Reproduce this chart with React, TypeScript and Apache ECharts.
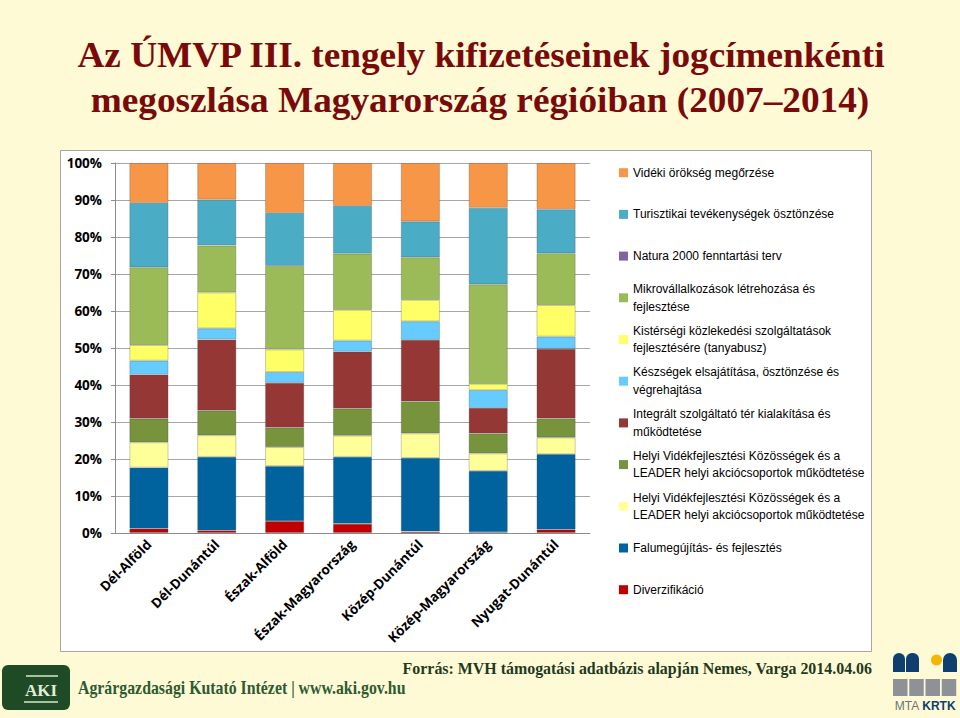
import React, { useEffect, useRef } from 'react';
import * as echarts from 'echarts';

const categories = ['Dél-Alföld', 'Dél-Dunántúl', 'Észak-Alföld', 'Észak-Magyarország', 'Közép-Dunántúl', 'Közép-Magyarország', 'Nyugat-Dunántúl'];

// stacked bottom to top (values in %)
const diverzifikacio = [1.2, 0.7, 3.2, 2.5, 0.4, 0.2, 0.9];
const falumegujitas = [16.5, 19.9, 14.9, 18.1, 19.9, 16.6, 20.4];
const helyiLeaderA = [6.8, 5.8, 5.1, 5.7, 6.6, 4.7, 4.5];
const helyiLeaderB = [6.4, 6.7, 5.3, 7.3, 8.7, 5.4, 5.2];
const integraltTer = [11.9, 19.2, 12.1, 15.4, 16.6, 6.9, 18.8];
const keszsegek = [3.8, 3.0, 2.9, 3.0, 5.0, 4.8, 3.3];
const kistersegi = [4.2, 9.7, 6.1, 8.3, 5.8, 1.7, 8.5];
const mikrovallalkozasok = [21.0, 12.7, 22.6, 15.2, 11.5, 26.9, 14.0];
const natura2000 = [0, 0, 0, 0, 0, 0, 0];
const turisztikai = [17.4, 12.4, 14.3, 12.9, 9.7, 20.7, 11.9];
const videkiOrokseg = [10.8, 9.9, 13.5, 11.6, 15.8, 12.1, 12.5];

const yTicks = [0, 10, 20, 30, 40, 50, 60, 70, 80, 90, 100];

const seriesNames = [
  'Diverzifikáció',
  'Falumegújítás- és fejlesztés',
  'Helyi Vidékfejlesztési Közösségek és a LEADER helyi akciócsoportok működtetése',
  'Helyi Vidékfejlesztési Közösségek és a LEADER helyi akciócsoportok működtetése ',
  'Integrált szolgáltató tér kialakítása és működtetése',
  'Készségek elsajátítása, ösztönzése és végrehajtása',
  'Kistérségi közlekedési szolgáltatások fejlesztésére (tanyabusz)',
  'Mikrovállalkozások létrehozása és fejlesztése',
  'Natura 2000 fenntartási terv',
  'Turisztikai tevékenységek ösztönzése',
  'Vidéki örökség megőrzése',
];
const legendLabels = [
  'Diverzifikáció',
  'Falumegújítás- és fejlesztés',
  'Helyi Vidékfejlesztési Közösségek és a\nLEADER helyi akciócsoportok működtetése',
  'Helyi Vidékfejlesztési Közösségek és a\nLEADER helyi akciócsoportok működtetése',
  'Integrált szolgáltató tér kialakítása és\nműködtetése',
  'Készségek elsajátítása, ösztönzése és\nvégrehajtása',
  'Kistérségi közlekedési szolgáltatások\nfejlesztésére (tanyabusz)',
  'Mikrovállalkozások létrehozása és\nfejlesztése',
  'Natura 2000 fenntartási terv',
  'Turisztikai tevékenységek ösztönzése',
  'Vidéki örökség megőrzése',
];
const seriesData = [
  diverzifikacio, falumegujitas, helyiLeaderA, helyiLeaderB, integraltTer,
  keszsegek, kistersegi, mikrovallalkozasok, natura2000, turisztikai, videkiOrokseg,
];
const palette = ['#C00000', '#00639E', '#FFFF99', '#77933C', '#953735', '#66CCFF', '#FFFF66', '#9BBB59', '#8064A2', '#4BACC6', '#F79646'];

const BG = '#FEFAD6';

export default function App() {
  const ref = useRef<HTMLDivElement>(null);
  useEffect(() => {
    document.body.style.margin = '0';
    document.body.style.background = BG;
    const chart = echarts.init(ref.current!, null, { renderer: 'svg' });
    const LH = 17.5;
    const legends = seriesNames.map((_, k) => {
      const idx = seriesNames.length - 1 - k;
      const c = 172.7 + k * 41.7;
      const twoLine = legendLabels[idx].includes('\n');
      return {
        data: [seriesNames[idx]],
        left: 619,
        top: twoLine ? c - 1.5 * LH : c - LH / 2,
        orient: 'vertical',
        padding: 0,
        itemWidth: 9,
        itemHeight: 9,
        itemGap: 0,
        icon: 'rect',
        selectedMode: false,
        formatter: () => legendLabels[idx],
        itemStyle: { borderWidth: 0 },
        textStyle: {
          fontFamily: '"Liberation Sans Narrow", "Liberation Sans", sans-serif',
          fontSize: 12,
          lineHeight: LH,
          color: '#000',
          padding: twoLine ? [LH, 0, 0, 0] : 0,
        },
      };
    });

    const serif = '"Liberation Serif", "DejaVu Serif", serif';
    const option: any = {
      animation: false,
      backgroundColor: BG,
      grid: { left: 115, right: 370, top: 163, bottom: 185, containLabel: false },
      legend: legends,
      xAxis: {
        type: 'category',
        data: categories,
        axisLine: { lineStyle: { color: '#8C8C8C' } },
        axisTick: { show: false },
        axisLabel: {
          rotate: 45,
          margin: 9,
          interval: 0,
          color: '#000',
          fontWeight: 'bold',
          fontSize: 13.5,
          fontFamily: '"Open Sans", sans-serif',
        },
      },
      yAxis: {
        type: 'value',
        min: 0,
        max: 100,
        interval: 10,
        axisLine: { show: true, lineStyle: { color: '#8C8C8C' } },
        axisTick: { show: true, length: 4, lineStyle: { color: '#8C8C8C' } },
        splitLine: { lineStyle: { color: '#A6A6A6' } },
        axisLabel: {
          formatter: (v: number) => (yTicks.includes(v) ? v + '%' : ''),
          margin: 13,
          color: '#000',
          fontWeight: 'bold',
          fontSize: 13.5,
          fontFamily: '"Open Sans", sans-serif',
        },
      },
      series: seriesNames.map((name, i) => ({
        name,
        type: 'bar',
        stack: 'total',
        barWidth: 39,
        data: seriesData[i],
        itemStyle: {
          color: palette[i],
          borderColor: 'rgba(70,70,70,0.35)',
          borderWidth: i === 8 ? 0 : 0.8,
        },
        emphasis: { disabled: true },
      })),
      graphic: [
        {
          type: 'rect', z: -10, silent: true,
          shape: { x: 60.5, y: 150.5, width: 811, height: 501 },
          style: { fill: '#FFFFFF', stroke: '#A6A6A6', lineWidth: 1 },
        },
        {
          type: 'text', silent: true,
          x: 481, y: 55, scaleX: 1.065,
          style: {
            text: 'Az ÚMVP III. tengely kifizetéseinek jogcímenkénti',
            x: 0, y: 0, font: `bold 35px ${serif}`, fill: '#7A0A0A',
            align: 'center', verticalAlign: 'middle', textAlign: 'center', textVerticalAlign: 'middle',
          },
        },
        {
          type: 'text', silent: true,
          x: 480, y: 100, scaleX: 1.065,
          style: {
            text: 'megoszlása Magyarország régióiban (2007\u20132014)',
            x: 0, y: 0, font: `bold 35px ${serif}`, fill: '#7A0A0A',
            align: 'center', verticalAlign: 'middle', textAlign: 'center', textVerticalAlign: 'middle',
          },
        },
        {
          type: 'text', silent: true,
          x: 872, y: 668, scaleX: 0.995,
          style: {
            text: 'Forrás: MVH támogatási adatbázis alapján Nemes, Varga 2014.04.06',
            x: 0, y: 0, font: `bold 16px ${serif}`, fill: '#1E3A1E',
            align: 'right', verticalAlign: 'middle', textAlign: 'right', textVerticalAlign: 'middle',
          },
        },
        {
          type: 'text', silent: true,
          x: 78, y: 688, scaleX: 0.88,
          style: {
            text: 'Agrárgazdasági Kutató Intézet | www.aki.gov.hu',
            x: 0, y: 0, font: `bold 18px ${serif}`, fill: '#2E5A32',
            align: 'left', verticalAlign: 'middle', textAlign: 'left', textVerticalAlign: 'middle',
          },
        },
        // AKI logo
        {
          type: 'rect', silent: true,
          shape: { x: 2, y: 665, width: 68, height: 45, r: 6 },
          style: { fill: '#1F4A26' },
        },
        {
          type: 'line', silent: true,
          shape: { x1: 26, y1: 676, x2: 58, y2: 676 },
          style: { stroke: '#A9BFA0', lineWidth: 2 },
        },
        {
          type: 'line', silent: true,
          shape: { x1: 24, y1: 702, x2: 58, y2: 702 },
          style: { stroke: '#A9BFA0', lineWidth: 2 },
        },
        {
          type: 'text', silent: true,
          style: {
            text: 'AKI', x: 41, y: 690, font: `bold 17px ${serif}`, fill: '#E4ECD8',
            align: 'center', verticalAlign: 'middle', textAlign: 'center', textVerticalAlign: 'middle',
          },
        },
        // MTA KRTK logo
        {
          type: 'rect', silent: true,
          shape: { x: 893, y: 653, width: 12, height: 19, r: [6, 6, 0, 0] },
          style: { fill: '#0E3F6E' },
        },
        {
          type: 'rect', silent: true,
          shape: { x: 906, y: 653, width: 13, height: 19, r: [6, 6, 0, 0] },
          style: { fill: '#0E3F6E' },
        },
        {
          type: 'circle', silent: true,
          shape: { cx: 936.5, cy: 660, r: 5.5 },
          style: { fill: '#F2B705' },
        },
        {
          type: 'rect', silent: true,
          shape: { x: 943, y: 653, width: 14, height: 19, r: [7, 7, 0, 0] },
          style: { fill: '#0E3F6E' },
        },
        ...[0, 1, 2, 3].map((j) => ({
          type: 'rect', silent: true,
          shape: { x: 893 + j * 16.25, y: 679, width: 14.5, height: 17 },
          style: { fill: '#8E9297' },
        })),
        {
          type: 'text', silent: true,
          style: {
            text: '{a|MTA }{b|KRTK}', x: 925, y: 706,
            align: 'center', verticalAlign: 'middle', textAlign: 'center', textVerticalAlign: 'middle',
            rich: {
              a: { fontFamily: '"Liberation Sans", sans-serif', fontSize: 12, fill: '#6E7378', color: '#6E7378' },
              b: { fontFamily: '"Liberation Sans", sans-serif', fontSize: 12, fontWeight: 'bold', fill: '#0E3F6E', color: '#0E3F6E' },
            },
          },
        },
      ],
    };
    chart.setOption(option);
    return () => chart.dispose();
  }, []);
  return (
    <div
      ref={ref}
      style={{ position: 'fixed', left: 0, top: 0, width: 960, height: 718, background: BG }}
    />
  );
}
